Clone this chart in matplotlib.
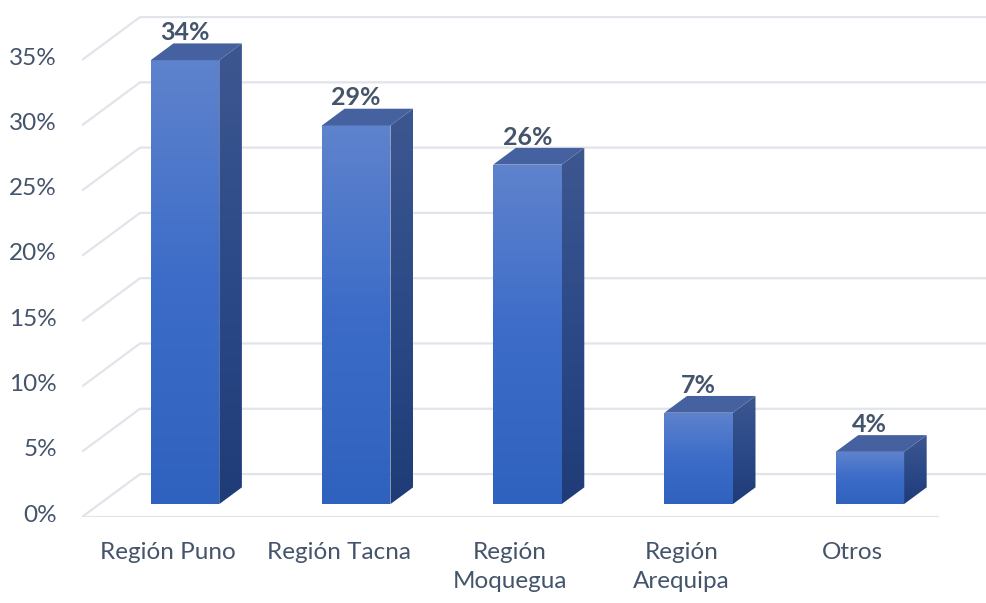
import numpy as np
import matplotlib.pyplot as plt
from matplotlib.patches import Polygon
from matplotlib.colors import LinearSegmentedColormap

# participation by region (%)
regions = ["Región Puno", "Región Tacna", "Región\nMoquegua", "Región\nArequipa", "Otros"]
shares = [34, 29, 26, 7, 4]
tick_values = [0, 5, 10, 15, 20, 25, 30, 35]
tick_labels = ["0%", "5%", "10%", "15%", "20%", "25%", "30%", "35%"]

plt.rcParams["font.family"] = ["Lato", "DejaVu Sans"]
TEXT = "#44546a"
GRID = "#e1e4ea"

fig = plt.figure(figsize=(9.87, 6.03), dpi=100)
ax = fig.add_axes([82 / 987, 86 / 603, 905 / 987, 517 / 603])
ax.axis("off")

# pseudo-3D geometry, in data units
depth_x, depth_y = 0.339, 3.29   # full floor depth offset
front, back = 0.30, 0.69         # bar position inside the depth
half = 0.20                      # half bar width

front_cmap = LinearSegmentedColormap.from_list("front", ["#2f62be", "#3c6cc8", "#5f83cd"])
side_cmap = LinearSegmentedColormap.from_list("side", ["#1f3c78", "#2c4a88", "#3d5790"])
top_color = "#46619f"
grad = np.linspace(0, 1, 256).reshape(-1, 1)

# back wall grid with the diagonal lines on the left side wall
for t, lab in zip(tick_values, tick_labels):
    ax.plot([-0.5, -0.5 + depth_x, 5.2], [t, t + depth_y, t + depth_y],
            color=GRID, lw=1.6, zorder=1, solid_capstyle="butt")
    ax.text(-0.5 - 0.146, t + 0.15, lab, ha="right", va="center",
            fontsize=17.5, color=TEXT)
ax.plot([-0.5, 4.5], [0, 0], color=GRID, lw=1.6, zorder=1)

for i, v in enumerate(shares):
    x0 = i - half + front * depth_x
    x1 = i + half + front * depth_x
    y0 = front * depth_y
    y1 = v + front * depth_y
    bdx = (back - front) * depth_x
    bdy = (back - front) * depth_y

    face = Polygon([(x0, y0), (x1, y0), (x1, y1), (x0, y1)], closed=True,
                   facecolor="none", edgecolor="none")
    ax.add_patch(face)
    im = ax.imshow(grad, extent=[x0, x1, y0, y1], origin="lower", aspect="auto",
                   cmap=front_cmap, zorder=3, interpolation="bilinear")
    im.set_clip_path(face)

    side = Polygon([(x1, y0), (x1 + bdx, y0 + bdy), (x1 + bdx, y1 + bdy), (x1, y1)],
                   closed=True, facecolor="none", edgecolor="none")
    ax.add_patch(side)
    im = ax.imshow(grad, extent=[x1, x1 + bdx, y0, y1 + bdy], origin="lower",
                   aspect="auto", cmap=side_cmap, zorder=3, interpolation="bilinear")
    im.set_clip_path(side)

    ax.add_patch(Polygon([(x0, y1), (x1, y1), (x1 + bdx, y1 + bdy), (x0 + bdx, y1 + bdy)],
                         closed=True, facecolor=top_color, edgecolor="none", zorder=3))

    ax.text(i + front * depth_x, v + back * depth_y + 0.25, f"{v}%", ha="center",
            va="baseline", fontsize=18, fontweight="bold", color=TEXT, zorder=4)
    ax.text(i, -1.95, regions[i], ha="center", va="top", fontsize=17.5,
            color=TEXT, linespacing=1.45)

ax.set_xlim(-0.5, -0.5 + 905 / 171.2)
ax.set_ylim(0, 517 / 13.057)

fig.savefig("out.png", dpi=100)
